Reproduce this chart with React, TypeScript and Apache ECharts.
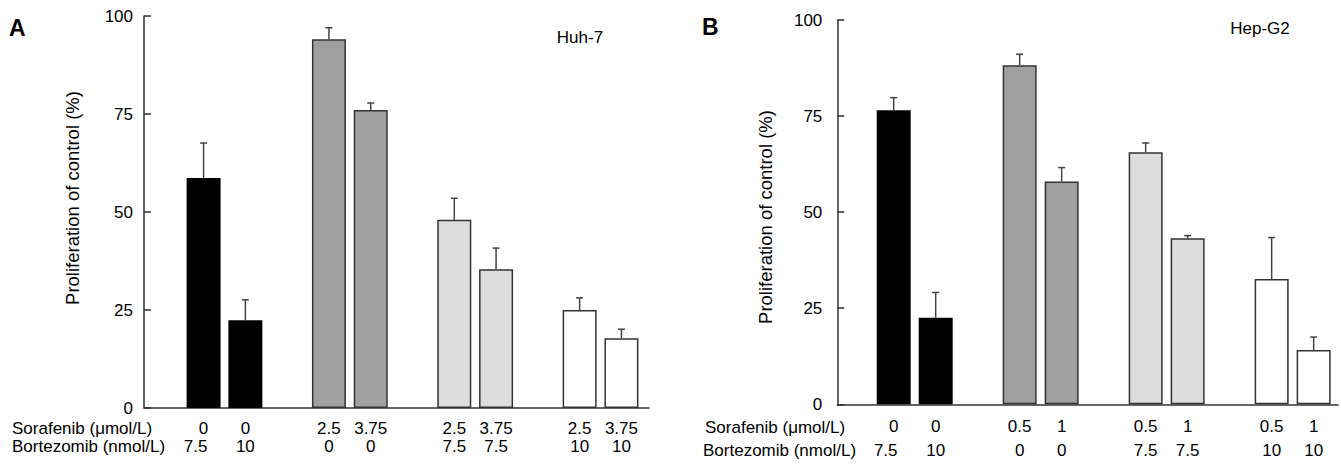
import React, { useEffect, useRef } from "react";
import * as echarts from "echarts";

// Panel A (Huh-7)
const sorafenibA = ["0", "0", "2.5", "3.75", "2.5", "3.75", "2.5", "3.75"];
const bortezomibA = ["7.5", "10", "0", "0", "7.5", "7.5", "10", "10"];
const meanA = [58.7, 22.4, 94.1, 76.0, 48.0, 35.4, 25.0, 17.8];
const errA = [8.9, 5.2, 2.9, 1.8, 5.5, 5.4, 3.1, 2.3];

// Panel B (Hep-G2)
const sorafenibB = ["0", "0", "0.5", "1", "0.5", "1", "0.5", "1"];
const bortezomibB = ["7.5", "10", "0", "0", "7.5", "7.5", "10", "10"];
const meanB = [76.5, 22.5, 88.2, 58.0, 65.6, 43.2, 32.6, 14.1];
const errB = [3.3, 6.6, 2.9, 3.6, 2.4, 0.7, 10.8, 3.4];

const yTicks = [0, 25, 50, 75, 100];
const groupColors = ["#000000", "#a0a0a0", "#dcdddc", "#ffffff"];

const FONT = "'Liberation Sans', Arial, sans-serif";

// slot index: pairs of bars per group with one empty slot between groups
const slotOf = (i: number) => Math.floor(i / 2) * 3 + (i % 2);

function barData(means: number[]) {
  return means.map((m, i) => {
    const g = Math.floor(i / 2);
    const black = g === 0;
    return {
      value: [slotOf(i), m],
      itemStyle: {
        color: groupColors[g],
        borderColor: black ? "#000" : "#333",
        borderWidth: black ? 0 : 1.5,
      },
    };
  });
}

function errData(means: number[], errs: number[]) {
  return means.map((m, i) => [slotOf(i), m, m + errs[i]]);
}

const renderErr = (params: any, api: any) => {
  const x = api.value(0);
  const m = api.value(1);
  const t = api.value(2);
  const p0 = api.coord([x, m]);
  const p1 = api.coord([x, t]);
  const style = { stroke: "#444", lineWidth: 1.5 };
  return {
    type: "group",
    children: [
      { type: "line", shape: { x1: p0[0], y1: p0[1], x2: p1[0], y2: p1[1] }, style },
      { type: "line", shape: { x1: p1[0] - 3.5, y1: p1[1], x2: p1[0] + 3.5, y2: p1[1] }, style },
    ],
  };
};

function xAxisFor(gridIndex: number, min: number, max: number, sor: string[], bor: string[], lineHeight: number) {
  const slots = sor.map((_, i) => slotOf(i));
  const base = { fontFamily: FONT, fontSize: 17, color: "#000", lineHeight };
  return {
    type: "value",
    gridIndex,
    min,
    max,
    splitLine: { show: false },
    axisTick: { show: false },
    axisLine: { show: true, onZero: false, lineStyle: { color: "#333", width: 1.5 } },
    axisLabel: {
      show: true,
      customValues: slots,
      margin: 11,
      ...base,
      rich: {
        n: { ...base },
        s: { ...base, padding: [0, 16, 0, 0] },
      },
      formatter: (v: number) => {
        const i = slots.indexOf(Math.round(v));
        if (i < 0) return "";
        return `{n|${sor[i]}}\n{${i === 0 ? "s" : "n"}|${bor[i]}}`;
      },
    },
  };
}

function yAxisFor(gridIndex: number, margin: number) {
  return {
    type: "value",
    gridIndex,
    min: 0,
    max: 100,
    interval: 25,
    splitLine: { show: false },
    axisLine: { show: true, onZero: false, lineStyle: { color: "#333", width: 1.5 } },
    axisTick: { show: true, inside: true, length: 7, lineStyle: { color: "#333", width: 1.5 } },
    axisLabel: {
      margin,
      fontFamily: FONT,
      fontSize: 17,
      color: "#000",
      customValues: yTicks,
    },
  };
}

const textEl = (text: string, x: number, y: number, extra: any = {}) => ({
  type: "text",
  x,
  y,
  ...extra.el,
  style: {
    text,
    fontFamily: FONT,
    fontSize: 17,
    fill: "#000",
    textAlign: "left",
    textVerticalAlign: "middle",
    ...extra.style,
  },
});

export default function App() {
  const ref = useRef<HTMLDivElement>(null);
  useEffect(() => {
    if (!ref.current) return;
    const chart = echarts.init(ref.current, null, { renderer: "svg" });
    chart.setOption({
      animation: false,
      backgroundColor: "#ffffff",
      grid: [
        { left: 144, top: 16, width: 505, height: 392 },
        { left: 837.3, top: 20, width: 500.7, height: 384.3 },
      ],
      xAxis: [
        xAxisFor(0, -1.426, 10.66, sorafenibA, bortezomibA, 18.4),
        xAxisFor(1, -1.343, 10.58, sorafenibB, bortezomibB, 23.3),
      ],
      yAxis: [yAxisFor(0, 11), yAxisFor(1, 15)],
      series: [
        { type: "bar", xAxisIndex: 0, yAxisIndex: 0, barWidth: 34, data: barData(meanA), z: 2 },
        { type: "custom", xAxisIndex: 0, yAxisIndex: 0, renderItem: renderErr, data: errData(meanA, errA), z: 3 },
        { type: "bar", xAxisIndex: 1, yAxisIndex: 1, barWidth: 34, data: barData(meanB), z: 2 },
        { type: "custom", xAxisIndex: 1, yAxisIndex: 1, renderItem: renderErr, data: errData(meanB, errB), z: 3 },
      ],
      graphic: [
        textEl("A", 9, 28, { style: { fontSize: 23, fontWeight: "bold" } }),
        textEl("B", 702, 27, { style: { fontSize: 23, fontWeight: "bold" } }),
        textEl("Huh-7", 580, 37, { style: { textAlign: "center" } }),
        textEl("Hep-G2", 1260, 28.3, { style: { textAlign: "center" } }),
        textEl("Proliferation of control (%)", 72, 198, {
          el: { rotation: Math.PI / 2 },
          style: { textAlign: "center", fontSize: 18.5 },
        }),
        textEl("Proliferation of control (%)", 765, 217, {
          el: { rotation: Math.PI / 2 },
          style: { textAlign: "center", fontSize: 18.5 },
        }),
        textEl("Sorafenib (\u03bcmol/L)", 12, 428.7),
        textEl("Bortezomib (nmol/L)", 12, 446.5),
        textEl("Sorafenib (\u03bcmol/L)", 705, 427),
        textEl("Bortezomib (nmol/L)", 703, 450),
      ],
    });
    return () => chart.dispose();
  }, []);
  return (
    <div
      ref={ref}
      style={{ position: "absolute", left: 0, top: 0, width: 1341, height: 465 }}
    />
  );
}
